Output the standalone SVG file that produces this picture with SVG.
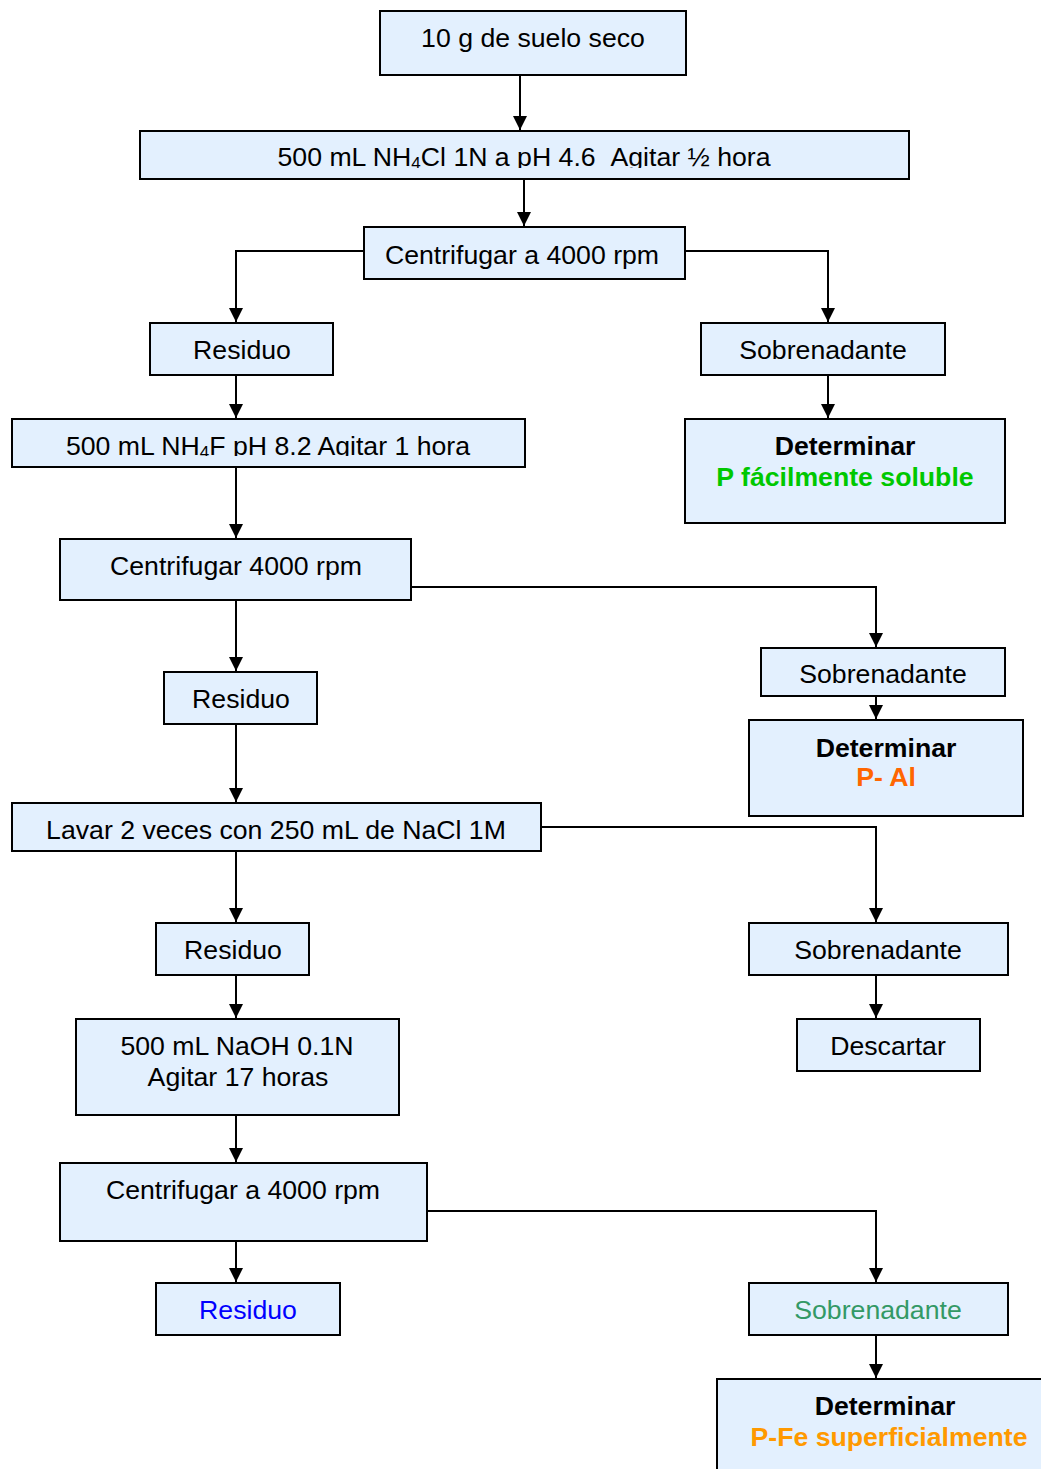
<svg xmlns="http://www.w3.org/2000/svg" width="1041" height="1469" viewBox="0 0 1041 1469">
<style>
.b{fill:#E3F0FE;stroke:#000;stroke-width:2}
.t{font-family:"Liberation Sans",Arial,sans-serif;font-size:26.67px;fill:#000;text-anchor:middle}
.bd{font-weight:bold}
.c{fill:none;stroke:#000;stroke-width:2}
</style>
<defs>
<marker id="ah" viewBox="0 0 14 14" refX="14" refY="7" markerWidth="14" markerHeight="14" markerUnits="userSpaceOnUse" orient="auto">
<path d="M0,0 L14,7 L0,14 z" fill="#000"/>
</marker>
<clipPath id="cp2"><rect x="140" y="131" width="769" height="37"/></clipPath>
<clipPath id="cp5"><rect x="12" y="419" width="513" height="37"/></clipPath>
</defs>
<rect width="1041" height="1469" fill="#fff"/>
<g id="connectors" class="c" marker-end="url(#ah)">
<path d="M520,75 V130"/>
<path d="M524,179 V226"/>
<path d="M364,251 H236 V322"/>
<path d="M685,251 H828 V322"/>
<path d="M236,375 V418"/>
<path d="M828,375 V418"/>
<path d="M236,467 V538"/>
<path d="M411,587 H876 V647"/>
<path d="M236,600 V671"/>
<path d="M876,696 V719"/>
<path d="M236,724 V802"/>
<path d="M541,827 H876 V922"/>
<path d="M236,851 V922"/>
<path d="M876,975 V1018"/>
<path d="M236,975 V1018"/>
<path d="M236,1115 V1162"/>
<path d="M427,1211 H876 V1282"/>
<path d="M236,1236 V1282"/>
<path d="M876,1335 V1378"/>
</g>
<g id="n1"><rect class="b" x="380" y="11" width="306" height="64"/><text class="t" x="533" y="47">10 g de suelo seco</text></g>
<g id="n2"><rect class="b" x="140" y="131" width="769" height="48"/><text class="t" x="524" y="166" clip-path="url(#cp2)">500 mL NH<tspan font-size="17" dy="3">4</tspan><tspan dy="-3">Cl 1N a pH 4.6 &#160;Agitar ½ hora</tspan></text></g>
<g id="n3"><rect class="b" x="364" y="227" width="321" height="52"/><text class="t" x="522" y="264">Centrifugar a 4000 rpm</text></g>
<g id="n4"><rect class="b" x="150" y="323" width="183" height="52"/><text class="t" x="242" y="359">Residuo</text></g>
<g id="n5"><rect class="b" x="701" y="323" width="244" height="52"/><text class="t" x="823" y="359">Sobrenadante</text></g>
<g id="n6"><rect class="b" x="12" y="419" width="513" height="48"/><text class="t" x="268" y="455" clip-path="url(#cp5)">500 mL NH<tspan font-size="17" dy="3">4</tspan><tspan dy="-3">F pH 8.2 Agitar 1 hora</tspan></text></g>
<g id="n7"><rect class="b" x="685" y="419" width="320" height="104"/><text class="t bd" x="845" y="455">Determinar</text><text class="t bd" x="845" y="486" style="fill:#00C800">P fácilmente soluble</text></g>
<g id="n8"><rect class="b" x="60" y="539" width="351" height="61"/><text class="t" x="236" y="575">Centrifugar 4000 rpm</text></g>
<g id="n9"><rect class="b" x="164" y="672" width="153" height="52"/><text class="t" x="241" y="708">Residuo</text></g>
<g id="n10"><rect class="b" x="761" y="648" width="244" height="48"/><text class="t" x="883" y="683">Sobrenadante</text></g>
<g id="n11"><rect class="b" x="749" y="720" width="274" height="96"/><text class="t bd" x="886" y="757">Determinar</text><text class="t bd" x="886" y="786" style="fill:#FF6600">P- Al</text></g>
<g id="n12"><rect class="b" x="12" y="803" width="529" height="48"/><text class="t" x="276" y="839">Lavar 2 veces con 250 mL de NaCl 1M</text></g>
<g id="n13"><rect class="b" x="156" y="923" width="153" height="52"/><text class="t" x="233" y="959">Residuo</text></g>
<g id="n14"><rect class="b" x="749" y="923" width="259" height="52"/><text class="t" x="878" y="959">Sobrenadante</text></g>
<g id="n15"><rect class="b" x="76" y="1019" width="323" height="96"/><text class="t" x="237" y="1055">500 mL NaOH 0.1N</text><text class="t" x="238" y="1086">Agitar 17 horas</text></g>
<g id="n16"><rect class="b" x="797" y="1019" width="183" height="52"/><text class="t" x="888" y="1055">Descartar</text></g>
<g id="n17"><rect class="b" x="60" y="1163" width="367" height="78"/><text class="t" x="243" y="1199">Centrifugar a 4000 rpm</text></g>
<g id="n18"><rect class="b" x="156" y="1283" width="184" height="52"/><text class="t" x="248" y="1319" style="fill:#0000FF">Residuo</text></g>
<g id="n19"><rect class="b" x="749" y="1283" width="259" height="52"/><text class="t" x="878" y="1319" style="fill:#339966">Sobrenadante</text></g>
<g id="n20"><rect class="b" x="717" y="1379" width="340" height="110"/><text class="t bd" x="885" y="1415">Determinar</text><text class="t bd" x="889" y="1446" style="fill:#FF9900">P-Fe superficialmente</text></g>
</svg>
